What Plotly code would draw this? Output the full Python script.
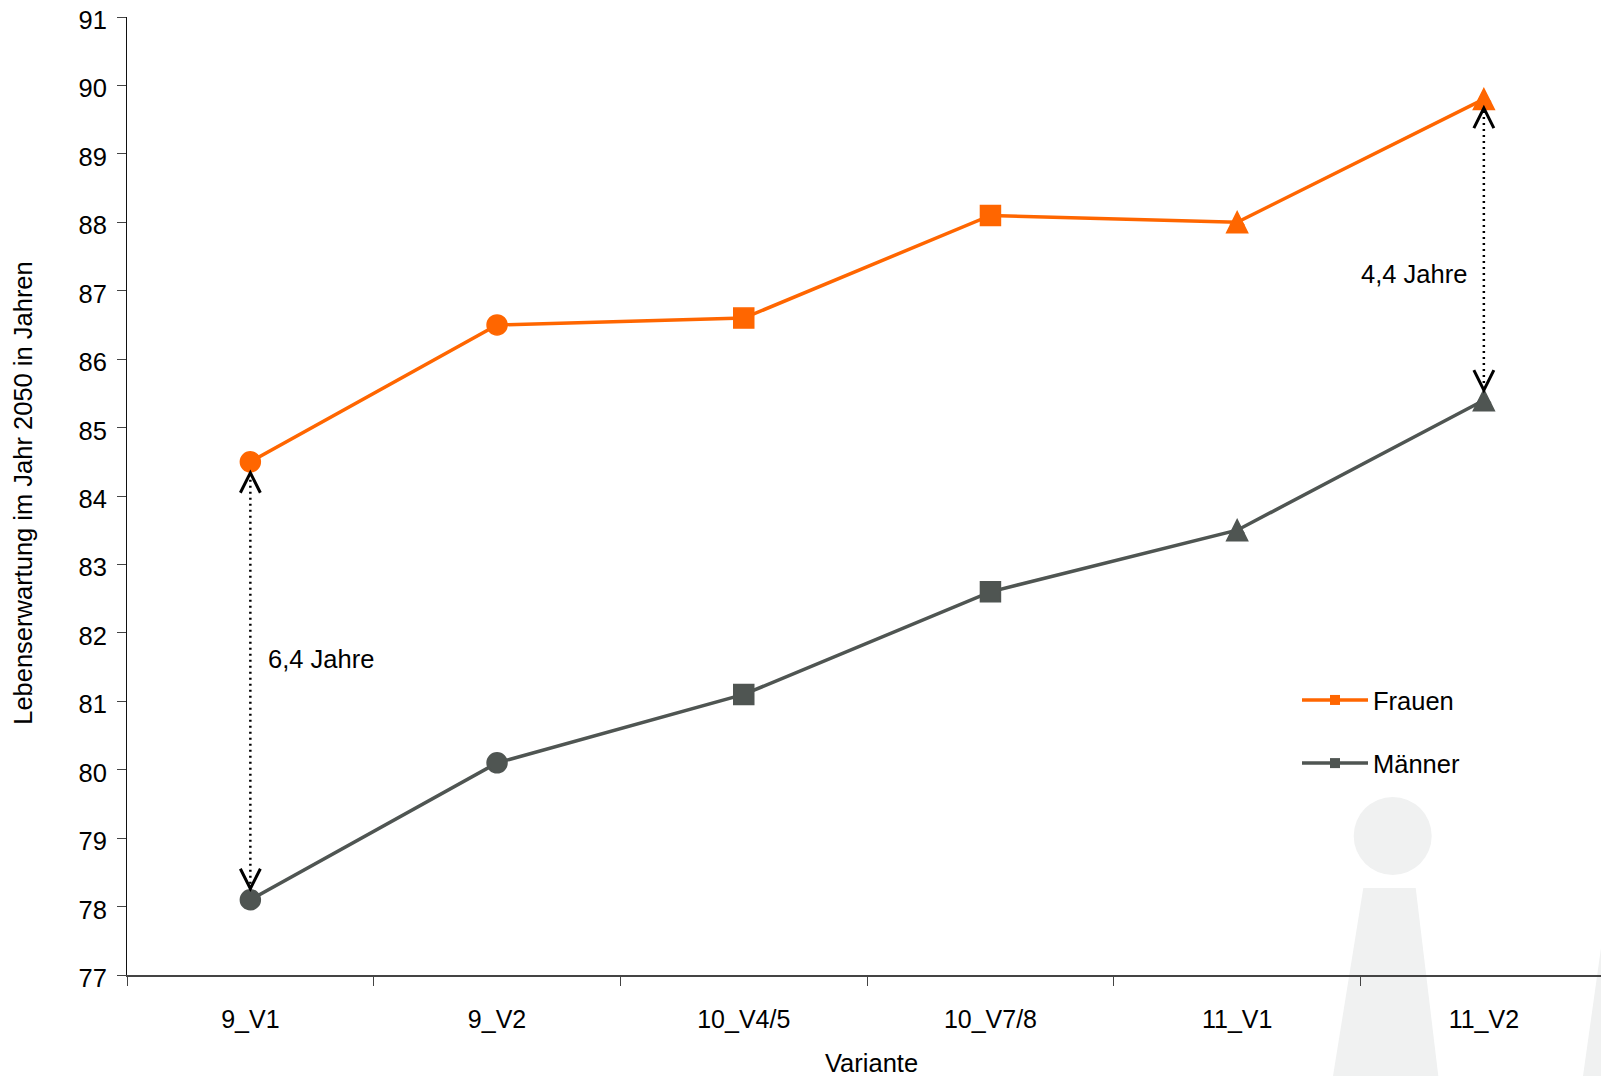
import plotly.graph_objects as go

# Life expectancy in 2050 by projection variant
varianten = ["9_V1", "9_V2", "10_V4/5", "10_V7/8", "11_V1", "11_V2"]
frauen = [84.5, 86.5, 86.6, 88.1, 88.0, 89.8]
maenner = [78.1, 80.1, 81.1, 82.6, 83.5, 85.4]
symbole = ["circle", "circle", "square", "square", "triangle-up", "triangle-up"]
marker_groessen = [20, 20, 20, 20, 12, 12]
jahre = [77, 78, 79, 80, 81, 82, 83, 84, 85, 86, 87, 88, 89, 90, 91]

ORANGE = "#ff6600"
GRAU = "#4f5552"
BLASS = "#f0f1f1"
FONT = "Liberation Sans, Arial, sans-serif"
FS = 25.5

W, H = 1601, 1076
LEFT, TOP, BOTTOM = 127, 17.4, 975.0


def px_x(x):
    return (x - LEFT) / (W - LEFT)


def px_y(y):
    return (BOTTOM - y) / (BOTTOM - TOP)


def polygon(points):
    """Filled silhouette behind the plot, given in page pixels."""
    path = "M " + " L ".join(f"{px_x(x)} {px_y(y)}" for x, y in points) + " Z"
    return dict(type="path", xref="paper", yref="paper", layer="below", path=path,
                fillcolor=BLASS, line_width=0)


def pfeilspitze(kategorie, wert, offset, richtung):
    """Open arrow head, sized in pixels and anchored on a data point."""
    tip = -offset * richtung
    back = tip - 20 * richtung
    return dict(type="path", xref="x", yref="y", xsizemode="pixel", ysizemode="pixel",
                xanchor=kategorie, yanchor=wert, layer="above",
                path=f"M -10 {back} L 0 {tip} L 10 {back}",
                line=dict(color="black", width=3))


def dreieck(kategorie, wert, farbe):
    """Tall triangle marker, sized in pixels and anchored on a data point."""
    return dict(type="path", xref="x", yref="y", xsizemode="pixel", ysizemode="pixel",
                xanchor=kategorie, yanchor=wert, layer="above",
                path="M -10.5 -10.5 L 10.5 -10.5 L 0 10.5 Z",
                fillcolor=farbe, line=dict(color=farbe, width=1.5))


fig = go.Figure()

# Dotted spans between the two series, below the markers
for idx in (0, 5):
    fig.add_trace(go.Scatter(x=[varianten[idx]] * 2, y=[frauen[idx], maenner[idx]],
                             mode="lines", showlegend=False, hoverinfo="skip",
                             line=dict(color="black", width=2.5, dash="2px 4px")))

for name, werte, farbe in (("Frauen", frauen, ORANGE), ("Männer", maenner, GRAU)):
    fig.add_trace(go.Scatter(x=varianten, y=werte, mode="lines+markers", name=name,
                             showlegend=False,
                             line=dict(color=farbe, width=3.5),
                             marker=dict(symbol=symbole, size=marker_groessen, color=farbe,
                                         opacity=1, line=dict(color=farbe, width=1.5))))
    # Legend key: line with a small square
    fig.add_trace(go.Scatter(x=[None], y=[None], mode="lines+markers", name=name,
                             legendgroup=name,
                             line=dict(color=farbe, width=3.5),
                             marker=dict(symbol="square", size=10, color=farbe)))

shapes = [
    # Person silhouettes
    dict(type="circle", xref="paper", yref="paper", layer="below",
         x0=px_x(1353.7), x1=px_x(1431.7), y0=px_y(875), y1=px_y(797),
         fillcolor=BLASS, line_width=0),
    polygon([(1363.3, 888), (1415.7, 888), (1438.3, H), (1333, H)]),
    polygon([(1601, 948), (1601, H), (1583, H)]),
]
for i in (4, 5):
    shapes.append(dreieck(varianten[i], frauen[i], ORANGE))
    shapes.append(dreieck(varianten[i], maenner[i], GRAU))
shapes += [
    pfeilspitze(varianten[0], frauen[0], 11, 1),
    pfeilspitze(varianten[0], maenner[0], 11, -1),
    pfeilspitze(varianten[5], frauen[5], 9, 1),
    pfeilspitze(varianten[5], maenner[5], 10, -1),
]

fig.update_layout(
    width=W, height=H,
    margin=dict(l=LEFT, r=0, t=TOP, b=H - BOTTOM, autoexpand=False),
    paper_bgcolor="white", plot_bgcolor="rgba(0,0,0,0)",
    font=dict(family=FONT, size=FS, color="black"),
    shapes=shapes,
    legend=dict(x=px_x(1297), y=px_y(677), xanchor="left", yanchor="top",
                itemwidth=66, tracegroupgap=27, bgcolor="rgba(0,0,0,0)",
                font=dict(size=FS, color="black")),
    annotations=[
        dict(text="6,4 Jahre", xref="paper", yref="paper", x=px_x(266), y=px_y(659),
             xanchor="left", yanchor="middle", showarrow=False),
        dict(text="4,4 Jahre", xref="paper", yref="paper", x=px_x(1359), y=px_y(274),
             xanchor="left", yanchor="middle", showarrow=False),
        dict(text="Variante", xref="paper", yref="paper", x=px_x(871), y=px_y(1063),
             xanchor="center", yanchor="middle", showarrow=False),
        dict(text="Lebenserwartung im Jahr 2050 in Jahren", xref="paper", yref="paper",
             x=px_x(23), y=px_y(493), xanchor="center", yanchor="middle",
             textangle=-90, showarrow=False),
    ],
)
fig.update_xaxes(
    type="category", categoryorder="array", categoryarray=varianten,
    range=[-0.5, (W - LEFT) / 246.7 - 0.5],
    tickson="boundaries", ticks="outside", ticklen=9, tickwidth=1, tickcolor="#444444",
    showline=True, linecolor="#444444", linewidth=1.5, showgrid=False, zeroline=False,
    ticklabelstandoff=21, tickfont=dict(size=25),
)
fig.update_yaxes(
    range=[77, 91], tickvals=jahre, ticks="outside", ticklen=9, tickwidth=1, tickcolor="#444444",
    showline=True, linecolor="#111111", linewidth=1, showgrid=False, zeroline=False,
    ticklabelstandoff=5, ticklabelshift=3, tickfont=dict(size=FS),
)

fig.write_html("out.html", config=dict(displayModeBar=False))
